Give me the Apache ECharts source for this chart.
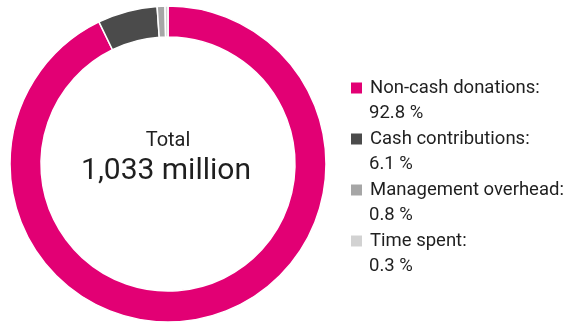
<!DOCTYPE html>
<html>
<head>
<meta charset="utf-8">
<title>Donations breakdown</title>
<script src="https://cdn.jsdelivr.net/npm/echarts@6/dist/echarts.min.js"></script>
<style>
  html, body { margin: 0; padding: 0; background: #ffffff; }
  #chart { width: 567px; height: 325px; }
</style>
</head>
<body>
<div id="chart"></div>
<script>
// Share of the total by category (percent)
const categories = ['Non-cash donations', 'Cash contributions', 'Management overhead', 'Time spent'];
const shares = [92.8, 6.1, 0.8, 0.3];
const sliceColors = ['#e20074', '#4b4b4b', '#a6a6a6', '#d2d2d2'];
const centerCaption = 'Total';
const centerValue = '1,033 million';

const FONT = 'Roboto, "Noto Sans", sans-serif';
const TEXT = '#1f1f1f';

const pieData = categories.map((name, i) => ({
  name: name,
  value: shares[i],
  itemStyle: { color: sliceColors[i] }
}));

const shareByName = {};
categories.forEach((n, i) => { shareByName[n] = shares[i]; });

const chart = echarts.init(document.getElementById('chart'), null, { renderer: 'canvas' });

chart.setOption({
  animation: false,
  backgroundColor: '#ffffff',
  title: [
    {
      text: centerCaption,
      left: 168, top: 129, padding: 0,
      textAlign: 'center',
      textStyle: { fontFamily: FONT, fontSize: 20, fontWeight: 'normal', color: TEXT, lineHeight: 24 }
    },
    {
      text: centerValue,
      left: 166, top: 153, padding: 0,
      textAlign: 'center',
      textStyle: { fontFamily: FONT, fontSize: 30, fontWeight: 'normal', color: TEXT, lineHeight: 36 }
    }
  ],
  legend: [
    {
      // category names with colour swatches
      orient: 'vertical',
      left: 349, top: 78, padding: 0,
      itemWidth: 13, itemHeight: 13, itemGap: 31,
      icon: 'rect',
      selectedMode: false,
      data: categories,
      formatter: name => name + ':',
      textStyle: { fontFamily: FONT, fontSize: 18.5, color: TEXT, lineHeight: 20, padding: [0, 0, 0, 2] }
    },
    {
      // percentage line under each name
      orient: 'vertical',
      left: 349, top: 103, padding: 0,
      itemWidth: 13, itemHeight: 13, itemGap: 31,
      icon: 'none',
      selectedMode: false,
      data: categories,
      formatter: name => shareByName[name].toFixed(1) + ' %',
      textStyle: { fontFamily: FONT, fontSize: 18.5, color: TEXT, lineHeight: 20, padding: [0, 0, 0, 2] }
    }
  ],
  series: [
    {
      type: 'pie',
      center: [168, 164],
      radius: [127, 158],
      startAngle: 90,
      clockwise: true,
      silent: true,
      label: { show: false },
      labelLine: { show: false },
      itemStyle: { borderColor: '#ffffff', borderWidth: 1.5 },
      data: pieData
    }
  ]
});
</script>
</body>
</html>
